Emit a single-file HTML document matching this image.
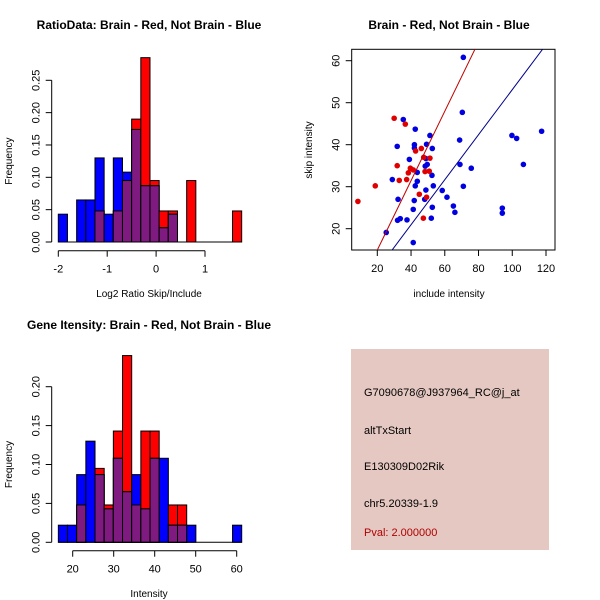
<!DOCTYPE html>
<html><head><meta charset="utf-8"><style>
body{margin:0;background:#fff}
svg{display:block;font-family:"Liberation Sans",sans-serif}
</style></head><body>
<svg id="c" width="600" height="600" viewBox="0 0 600 600" xmlns="http://www.w3.org/2000/svg">
<rect width="600" height="600" fill="#fff"/>
<g id="p1"></g>
<g id="p2"></g>
<g id="p3"></g>
<g>
<rect x="351" y="349" width="198" height="201" fill="#e5c8c2"/>
<g font-size="11" fill="#000">
<text x="364" y="396">G7090678@J937964_RC@j_at</text>
<text x="364" y="434">altTxStart</text>
<text x="364" y="470">E130309D02Rik</text>
<text x="364" y="507">chr5.20339-1.9</text>
<text x="364" y="536" fill="#b00000">Pval: 2.000000</text>
</g></g>
</svg>
<script>
// Ratio histogram data
const ratioStart = -2, ratioBinW = 0.1875;
const ratioRed  = [0,0,0,0,0.048,0,0.048,0.095,0.19,0.285,0.095,0.048,0.048,0,0.095,0,0,0,0,0.048];
const ratioBlue = [0.043,0,0.065,0.065,0.13,0.043,0.13,0.108,0.174,0.087,0.087,0.022,0.043,0,0,0,0,0,0,0];
const ratioXTicks = [-2,-1,0,1];
const ratioYTicks = ["0.00","0.05","0.10","0.15","0.20","0.25"];
// Intensity histogram data
const intStart = 16.5, intBinW = 2.236;
const intRed  = [0,0,0.048,0,0.095,0.048,0.143,0.24,0.048,0.143,0.143,0,0.048,0.048,0,0,0,0,0,0];
const intBlue = [0.022,0.022,0.087,0.13,0.087,0.043,0.108,0.065,0.087,0.043,0.108,0.108,0.022,0.022,0.022,0,0,0,0,0.022];
const intXTicks = [20,30,40,50,60];
const intYTicks = ["0.00","0.05","0.10","0.15","0.20"];
// Scatter data
const redX = [8.5,18.8,30,31.8,33,36.6,37.4,38.4,39.6,41.3,42.7,44.9,46.1,47.3,47.5,48.3,49.2,50.8,51.2];
const redY = [26.5,30.2,46.3,35,31.5,44.9,31.7,33.3,34.4,34,38.5,28.2,39.1,22.5,37,33.6,27.5,33.7,36.8];
const blueX = [71,70.4,68.8,69,75.7,71,58.5,61.3,65.1,66,94.1,94.1,99.8,102.6,106.6,117.4,35.4,42.5,31.8,42,42,51.2,49.2,52.6,39,48.8,49.6,48.4,43.7,52.4,28.9,43.7,42.5,53.2,48.8,32.3,41.9,48.1,41.3,52.6,32,33.6,37.6,52,25.3,41.3];
const blueY = [60.8,47.7,41.1,35.3,34.4,30.1,29.1,27.5,25.4,23.9,24.9,23.7,42.2,41.5,35.3,43.2,46,43.7,39.6,40,39.2,42.2,40.1,39.1,36.5,36.7,35.3,34.9,33.4,32.7,31.7,31.3,30.2,30.2,29.2,27,26.7,27,24.6,25.1,22,22.4,22.1,22.5,19.1,16.7];
const redLine = [0.826,-1.6];   // slope, intercept
const blueLine = [0.536,-0.5];
const scXTicks = [20,40,60,80,100,120];
const scYTicks = [20,30,40,50,60];

const NS="http://www.w3.org/2000/svg";
function mk(parent,tag,attrs,txt){const e=document.createElementNS(NS,tag);for(const k in attrs)e.setAttribute(k,attrs[k]);if(txt!==undefined)e.textContent=txt;parent.appendChild(e);return e;}

function hist(g,cfg){
  const {start,bw,red,blue,xt,yt,x0,x1,xv0,xv1,y0,y1,yv1,axisY,axisX,title,titleY,xlab,xlabY,ylabX}=cfg;
  const sx=v=>x0+(v-xv0)/(xv1-xv0)*(x1-x0);
  const sy=v=>y0-(v/yv1)*(y0-y1);
  for(let i=0;i<red.length;i++){
    const a=sx(start+i*bw), b=sx(start+(i+1)*bw);
    const r=red[i], bl=blue[i];
    if(r>0){const e=mk(g,'rect',{x:a,y:sy(r),width:b-a,height:sy(0)-sy(r),fill:'#ff0000',stroke:'#000','stroke-width':1});
      }
    if(bl>0){const e=mk(g,'rect',{x:a,y:sy(bl),width:b-a,height:sy(0)-sy(bl),fill:'#0000ff',stroke:'#000','stroke-width':1});
      }
    const m=Math.min(r,bl);
    if(m>0){const e=mk(g,'rect',{x:a,y:sy(m),width:b-a,height:sy(0)-sy(m),fill:'#7f1a80',stroke:'#000','stroke-width':1});
      }
  }
  const bl0=mk(g,'line',{x1:sx(start),x2:sx(start+red.length*bw),y1:sy(0),y2:sy(0),stroke:'#000'});
  
  const xa=mk(g,'g',{});
  
  mk(xa,'line',{x1:sx(xt[0]),x2:sx(xt[xt.length-1]),y1:axisY,y2:axisY,stroke:'#000'});
  xt.forEach(v=>{mk(xa,'line',{x1:sx(v),x2:sx(v),y1:axisY,y2:axisY+6,stroke:'#000'});
    const t=mk(xa,'text',{x:sx(v),y:axisY+22,'font-size':11,'text-anchor':'middle'},String(v));
    });
  const ya=mk(g,'g',{});
  
  mk(ya,'line',{x1:axisX,x2:axisX,y1:sy(0),y2:sy(parseFloat(yt[yt.length-1])),stroke:'#000'});
  yt.forEach(s=>{const v=parseFloat(s);mk(ya,'line',{x1:axisX-6,x2:axisX,y1:sy(v),y2:sy(v),stroke:'#000'});
    const t=mk(ya,'text',{x:axisX-12,y:sy(v),'font-size':11,'text-anchor':'middle',transform:`rotate(-90 ${axisX-12} ${sy(v)})`},s);
    });
  const tt=mk(g,'text',{x:149,y:titleY,'font-size':12,'font-weight':'bold','text-anchor':'middle'},title);
  
  const xl=mk(g,'text',{x:149,y:xlabY,'font-size':10,'text-anchor':'middle'},xlab);
  
  const yc=(sy(0)+sy(parseFloat(yt[yt.length-1])))/2;
  const yl=mk(g,'text',{x:ylabX,y:yc,'font-size':10,'text-anchor':'middle',transform:`rotate(-90 ${ylabX} ${yc})`},'Frequency');
  
}

hist(document.getElementById('p1'),{start:ratioStart,bw:ratioBinW,red:ratioRed,blue:ratioBlue,xt:ratioXTicks,yt:ratioYTicks,
  x0:58.3,x1:205,xv0:-2,xv1:1,y0:242,y1:80.3,yv1:0.25,axisY:250.7,axisX:51.7,title:'RatioData: Brain - Red, Not Brain - Blue',titleY:29,
  xlab:'Log2 Ratio Skip/Include',xlabY:297,ylabX:12});
hist(document.getElementById('p3'),{start:intStart,bw:intBinW,red:intRed,blue:intBlue,xt:intXTicks,yt:intYTicks,
  x0:72.7,x1:236.7,xv0:20,xv1:60,y0:542.3,y1:386.7,yv1:0.20,axisY:550.7,axisX:51.7,title:'Gene Itensity: Brain - Red, Not Brain - Blue',titleY:329,
  xlab:'Intensity',xlabY:597,ylabX:12});

(function(){
  const g=document.getElementById('p2');
  const L=351.7,R=555,T=49.3,B=250;
  const sx=v=>377.3+(v-20)*(546-377.3)/100;
  const sy=v=>228.7-(v-20)*(228.7-60.7)/40;
  const clip=mk(g,'clipPath',{id:'clip'});
  mk(clip,'rect',{x:L,y:T,width:R-L,height:B-T});
  const box=mk(g,'rect',{x:L,y:T,width:R-L,height:B-T,fill:'none',stroke:'#000'});
  
  blueX.forEach((x,i)=>{const c=mk(g,'circle',{cx:sx(x),cy:sy(blueY[i]),r:2.8,fill:'#0000e0'});
    });
  redX.forEach((x,i)=>{const c=mk(g,'circle',{cx:sx(x),cy:sy(redY[i]),r:2.8,fill:'#e00000'});
    });
  const lg=mk(g,'g',{'clip-path':'url(#clip)'});
  [[redLine,'#c00000','red-fit-line'],[blueLine,'#00008b','blue-fit-line']].forEach(([ln,col,nm])=>{
    const xa=0,xb=140;
    const e=mk(lg,'line',{x1:sx(xa),y1:sy(ln[0]*xa+ln[1]),x2:sx(xb),y2:sy(ln[0]*xb+ln[1]),stroke:col,'stroke-width':1});
    });
  const xa=mk(g,'g',{});
  scXTicks.forEach(v=>{mk(xa,'line',{x1:sx(v),x2:sx(v),y1:B,y2:B+6,stroke:'#000'});
    const t=mk(xa,'text',{x:sx(v),y:B+22,'font-size':11,'text-anchor':'middle'},String(v));
    });
  const ya=mk(g,'g',{});
  scYTicks.forEach(v=>{mk(ya,'line',{x1:L-6,x2:L,y1:sy(v),y2:sy(v),stroke:'#000'});
    const t=mk(ya,'text',{x:L-12,y:sy(v),'font-size':11,'text-anchor':'middle',transform:`rotate(-90 ${L-12} ${sy(v)})`},String(v));
    });
  const tt=mk(g,'text',{x:449,y:29,'font-size':12,'font-weight':'bold','text-anchor':'middle'},'Brain - Red, Not Brain - Blue');
  
  const xl=mk(g,'text',{x:449,y:297,'font-size':10,'text-anchor':'middle'},'include intensity');
  
  const yl=mk(g,'text',{x:312,y:150,'font-size':10,'text-anchor':'middle',transform:'rotate(-90 312 150)'},'skip intensity');
  
})();
</script>
</body></html>
